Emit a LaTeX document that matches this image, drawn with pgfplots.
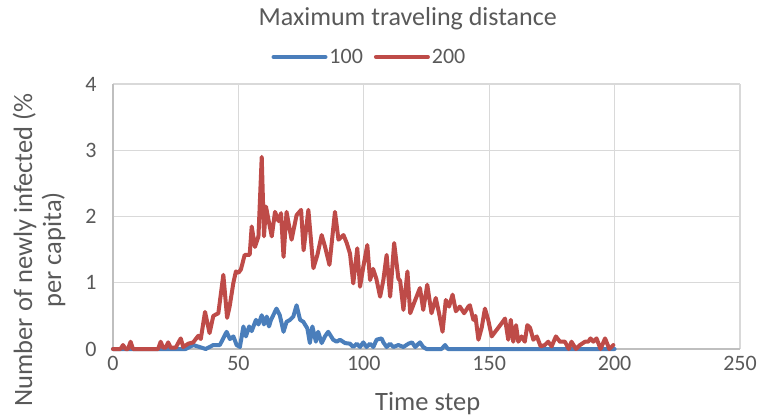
\documentclass[border=0pt]{standalone}
\usepackage{pgfplots}
\pgfplotsset{compat=1.18}
\usepackage{fontspec}
\setmainfont{Carlito}
\definecolor{blueS}{RGB}{74,126,187}
\definecolor{redS}{RGB}{190,75,72}
\definecolor{gridC}{RGB}{217,217,217}
\definecolor{axC}{RGB}{191,191,191}
\definecolor{txtC}{RGB}{89,89,89}
\begin{document}
\begin{tikzpicture}
\path[use as bounding box] (-113bp,-70bp) rectangle (648bp,349bp);
\begin{axis}[
  scale only axis, width=627bp, height=265bp,
  xmin=0, xmax=250, ymin=0, ymax=4,
  xtick={0,50,100,150,200,250}, ytick={0,1,2,3,4},
  major tick length=0pt,
  grid=major, grid style={gridC, line width=1.3bp},
  axis lines=left, axis line style={axC, line width=1.6bp, -},
  clip=false,
  /pgf/number format/assume math mode=true,
  tick label style={font=\fontsize{22bp}{26bp}\selectfont, text=txtC},
  xticklabel style={yshift=-4bp},
  yticklabel style={xshift=-13bp},
  label style={font=\fontsize{26.5bp}{29bp}\selectfont, text=txtC},
  xlabel={Time step},
  xlabel style={at={(axis description cs:0.502,-0.205)}, anchor=center},
  ylabel={Number of newly infected (\%\\per capita)},
  ylabel style={align=center, at={(axis description cs:-0.118,0.374)}, anchor=center},
  title={Maximum traveling distance},
  title style={font=\fontsize{26bp}{29bp}\selectfont, text=txtC, at={(axis description cs:0.47,1.225)}, anchor=center},
  legend style={at={(0.409,1.102)}, anchor=center, draw=none, fill=none,
    font=\fontsize{22bp}{26bp}\selectfont, text=txtC, inner sep=0pt,
    /tikz/every even column/.append style={column sep=9bp}},
  legend columns=2,
  legend image code/.code={\draw[#1, line width=4bp] (0bp,0bp) -- (52bp,0bp);},
  every axis plot/.append style={line width=4bp, line join=round, line cap=round, mark=none},
]
\addplot[blueS] table {
x y
0 0
29 0
32 0.06
34.5 0.03
37 0
40 0.06
42.6 0.06
45.3 0.26
46.6 0.15
48 0.19
49.3 0.06
50.6 0.03
52 0.34
53 0.19
54.3 0.34
55.3 0.27
57 0.44
58 0.37
59.3 0.51
60.2 0.37
61.3 0.49
62.2 0.34
63 0.44
65.2 0.61
66.5 0.51
68 0.26
69.2 0.41
70.6 0.44
71.9 0.49
73.2 0.66
74.6 0.44
75.9 0.41
77.5 0.31
78.5 0.09
79.5 0.34
80.9 0.11
81.8 0.26
83.2 0.09
84.5 0.19
85.8 0.26
87.8 0.14
89.2 0.11
90.5 0.14
92.5 0.09
94.5 0.08
95.8 0.03
97.2 0.08
98.5 0.03
99.8 0.1
101.1 0.03
102.5 0.08
103.8 0.03
105.1 0.14
107.1 0.16
107.8 0.1
109.1 0.03
110.5 0.08
111.8 0.03
113.8 0.06
115.8 0.03
117.8 0.08
119.2 0.1
120.5 0.03
122.4 0.1
123.7 0.03
125 0
131 0
132.4 0.06
133.5 0
200 0
};
\addlegendentry{100}
\addplot[redS] table {
x y
0 0
3 0
4 0.06
5 0
6 0
7 0.11
8 0
18 0
19 0.11
20 0.02
21 0.02
22 0.1
23 0.02
25 0.02
27 0.16
28 0.03
30 0.08
32 0.1
34 0.2
35 0.15
36.7 0.56
38.5 0.24
40 0.5
42 0.54
44 1.12
45.5 0.47
46.5 0.64
48 1.0
49 1.17
50 1.15
51 1.2
52.5 1.42
54.5 1.42
55.3 1.85
56.6 1.54
58 1.7
59.3 2.9
60.2 1.7
61 2.15
62 1.95
63.3 1.7
64.6 2.07
66 1.93
67 2.05
68 1.39
69.2 2.07
70 1.9
71.2 1.65
73.2 2.02
75 2.1
76 1.49
77.9 2.1
79.9 1.22
81.5 1.42
83.2 1.72
84.5 1.55
86.3 1.27
88.5 2.07
89.9 1.65
91.9 1.72
93.2 1.6
94.5 1.44
95.8 0.99
97.4 1.52
98.5 0.94
99.8 1.24
101.4 1.57
102.5 1.04
103.7 1.21
105 1.06
106.5 0.79
107.8 1.04
109.1 1.42
110.5 0.79
112.1 1.6
113.8 1.06
114.5 1.03
115.8 0.59
117.4 1.17
118.5 0.54
120.5 0.74
122.4 0.92
123.7 0.59
125.3 0.97
127 0.54
128.7 0.77
130 0.54
131.4 0.26
132.7 0.74
134 0.64
135.4 0.82
136.7 0.57
138.3 0.64
140 0.54
141.7 0.64
142.3 0.66
143.7 0.44
144.5 0.5
145.7 0.14
147 0.32
148.3 0.61
149.6 0.44
151 0.19
153 0.29
155 0.39
156.3 0.46
157.6 0.14
158.6 0.44
159.6 0.11
160.7 0.36
161.6 0.11
162.9 0.19
164.2 0.11
165.2 0.36
166.3 0.32
167.6 0.14
169 0.19
170.5 0.04
172.2 0.06
173.5 0.11
174.9 0.04
176.6 0.19
178.2 0.11
180.2 0.11
181.7 0
182.8 0.11
184.6 0
186.2 0.06
188.2 0.11
189.5 0.11
190.4 0.16
191.5 0.11
192.8 0.16
194.4 0
196.2 0.16
197.9 0
199.5 0.06
};
\addlegendentry{200}
\end{axis}
\end{tikzpicture}
\end{document}
